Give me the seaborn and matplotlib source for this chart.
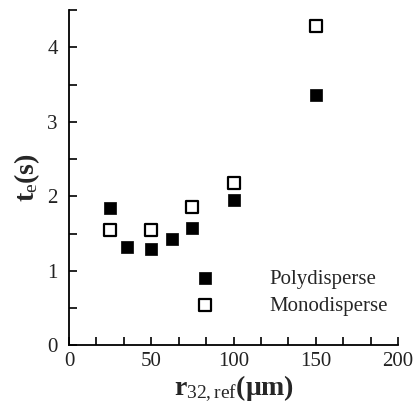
import matplotlib
matplotlib.use("Agg")
import matplotlib.pyplot as plt
import seaborn as sns
import pandas as pd
from matplotlib.ticker import MultipleLocator

# Data
poly_r = [25, 35, 50, 62.5, 75, 100, 150]
poly_t = [1.84, 1.32, 1.29, 1.43, 1.58, 1.95, 3.36]
mono_r = [25, 50, 75, 100, 150]
mono_t = [1.55, 1.55, 1.86, 2.18, 4.28]
x_ticks = [0, 50, 100, 150, 200]
y_ticks = [0, 1, 2, 3, 4]

sns.set_theme(style="ticks")
plt.rcParams['font.family'] = ['Liberation Serif', 'DejaVu Serif']
plt.rcParams['mathtext.fontset'] = 'custom'
plt.rcParams['mathtext.rm'] = 'Liberation Serif'
plt.rcParams['mathtext.it'] = 'Liberation Serif:italic'
plt.rcParams['mathtext.bf'] = 'Liberation Serif:bold'

fig = plt.figure(figsize=(4.13, 4.16), dpi=100)
ax = fig.add_axes([0.167, 0.1695, 0.797, 0.8065])

poly = pd.DataFrame({"r": poly_r, "t": poly_t})
mono = pd.DataFrame({"r": mono_r, "t": mono_t})

sns.scatterplot(data=poly, x="r", y="t", ax=ax, marker="s", s=80,
                color="black", edgecolor="black", linewidth=0.5, label="Polydisperse")
sns.scatterplot(data=mono, x="r", y="t", ax=ax, marker="s", s=68,
                facecolor="white", edgecolor="black", linewidth=1.6, label="Monodisperse")

ax.set_xlim(0, 200)
ax.set_ylim(0, 4.5)
ax.set_xticks(x_ticks)
ax.set_yticks(y_ticks)
ax.xaxis.set_minor_locator(MultipleLocator(50 / 3))
ax.yaxis.set_minor_locator(MultipleLocator(0.5))
ax.tick_params(which='both', direction='in', width=1.2, color='black',
               labelsize=15, labelcolor='#222222')
ax.tick_params(which='major', length=6, pad=5)
ax.tick_params(which='minor', length=6)
ax.tick_params(axis='y', pad=8)
for side in ['top', 'right']:
    ax.spines[side].set_visible(False)
for side in ['left', 'bottom']:
    ax.spines[side].set_linewidth(1.3)
    ax.spines[side].set_color('black')

ax.set_xlabel(r'r$_{\mathrm{32,ref}}$(μm)', fontsize=20, fontweight='bold', labelpad=2)
ax.set_ylabel(r't$_{\mathrm{e}}$(s)', fontsize=20, fontweight='bold', labelpad=4)

leg = ax.legend(loc='center left', bbox_to_anchor=(0.381, 0.158), frameon=False,
                fontsize=15, handlelength=1.0, handletextpad=2.6, borderpad=0,
                labelspacing=0.35, borderaxespad=0)

fig.savefig("out.png", dpi=100)
